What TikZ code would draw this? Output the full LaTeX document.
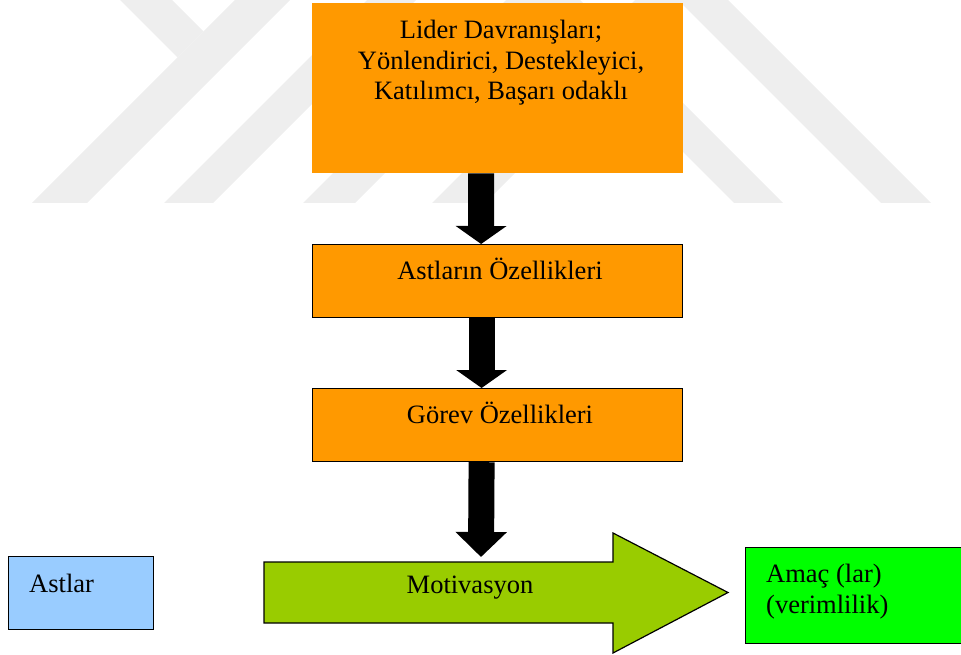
\documentclass[tikz,border=0pt]{standalone}
\usepackage{fontspec}
\setmainfont{Liberation Serif}
\usetikzlibrary{arrows.meta,calc}

\definecolor{boxorange}{HTML}{FF9900}
\definecolor{motivgreen}{HTML}{99CC00}
\definecolor{goalgreen}{HTML}{00FF00}
\definecolor{astblue}{HTML}{99CCFF}
\definecolor{markgray}{HTML}{EEEEEE}

\tikzset{
  diagtext/.style={font=\fontsize{26.5}{30.5}\selectfont, inner sep=0pt},
  panel/.style={draw=black, line width=1.2pt, inner sep=0pt, anchor=north west},
  blockarrow/.style={line width=26pt, -{Triangle[width=50pt, length=#1]}},
  markband/.style={fill=markgray, draw=none}
}

\begin{document}
\begin{tikzpicture}[x=1pt, y=-1pt]
  \useasboundingbox (0,0) rectangle (961,655);
  \clip (0,0) rectangle (961,655);

  % faint background mark made of slanted bands
  \begin{scope}
    \clip (0,0) rectangle (961,203);
    \fill[markband] (120,0) -- (172,0) -- (203.5,31.5) -- (177.5,57.5) -- cycle;
    \fill[markband] (235,0) -- (290,0) -- (87,203) -- (32,203) -- cycle;
    \fill[markband] (367,0) -- (416,0) -- (213,203) -- (164,203) -- cycle;
    \fill[markband] (506,0) -- (558,0) -- (355,203) -- (303,203) -- cycle;
    \fill[markband] (635,0) -- (688,0) -- (485,203) -- (432,203) -- cycle;
    \fill[markband] (531,0) -- (580,0) -- (783,203) -- (734,203) -- cycle;
    \fill[markband] (678,0) -- (728,0) -- (931,203) -- (881,203) -- cycle;
  \end{scope}

  % leader behaviour box (text anchored on the baseline of its last line)
  \node[fill=boxorange, inner sep=0pt, anchor=north west,
        minimum width=371pt, minimum height=170pt] (lider) at (312,3) {};
  \node[diagtext, align=center, anchor=base] (lidertext) at (501,100)
    {Lider Davranışları;\\Yönlendirici, Destekleyici,\\Katılımcı, Başarı odaklı};

  % subordinate characteristics
  \node[panel, fill=boxorange, minimum width=370pt, minimum height=73pt] (astozel) at (312,244) {};
  \node[diagtext, anchor=base] (astozeltext) at (500,279) {Astların Özellikleri};

  % task characteristics
  \node[panel, fill=boxorange, minimum width=370pt, minimum height=73pt] (gorev) at (312,388) {};
  \node[diagtext, anchor=base] (gorevtext) at (500,423) {Görev Özellikleri};

  % subordinates
  \node[panel, fill=astblue, minimum width=145pt, minimum height=73pt] (astlar) at (8,556) {};
  \node[diagtext, anchor=base west] (astlartext) at (29,592) {Astlar};

  % goal(s), running past the right edge
  \node[panel, fill=goalgreen, minimum width=240pt, minimum height=96pt] (amac) at (745,547) {};
  \node[diagtext, anchor=base west, align=left] (amactext) at (766,613) {Amaç (lar)\\(verimlilik)};

  % motivation block arrow
  \draw[fill=motivgreen, line width=1.2pt, line join=miter]
    (264,562) -- (613,562) -- (613,533) -- (728,592.5) -- (613,653) -- (613,623) -- (264,623) -- cycle;
  \node[diagtext, anchor=base] (motivtext) at (470,593) {Motivasyon};
  \coordinate (motivtop) at (481,557);

  % black block arrows between the boxes
  \draw[blockarrow=18pt] ([xshift=-16.5pt]lider.south) -- ([xshift=-16.5pt]astozel.north);
  \draw[blockarrow=18pt] ([xshift=-16pt]astozel.south) -- ([xshift=-16pt]gorev.north);
  \draw[blockarrow=25pt] ([xshift=-16pt]gorev.south) -- (motivtop);
\end{tikzpicture}
\end{document}
